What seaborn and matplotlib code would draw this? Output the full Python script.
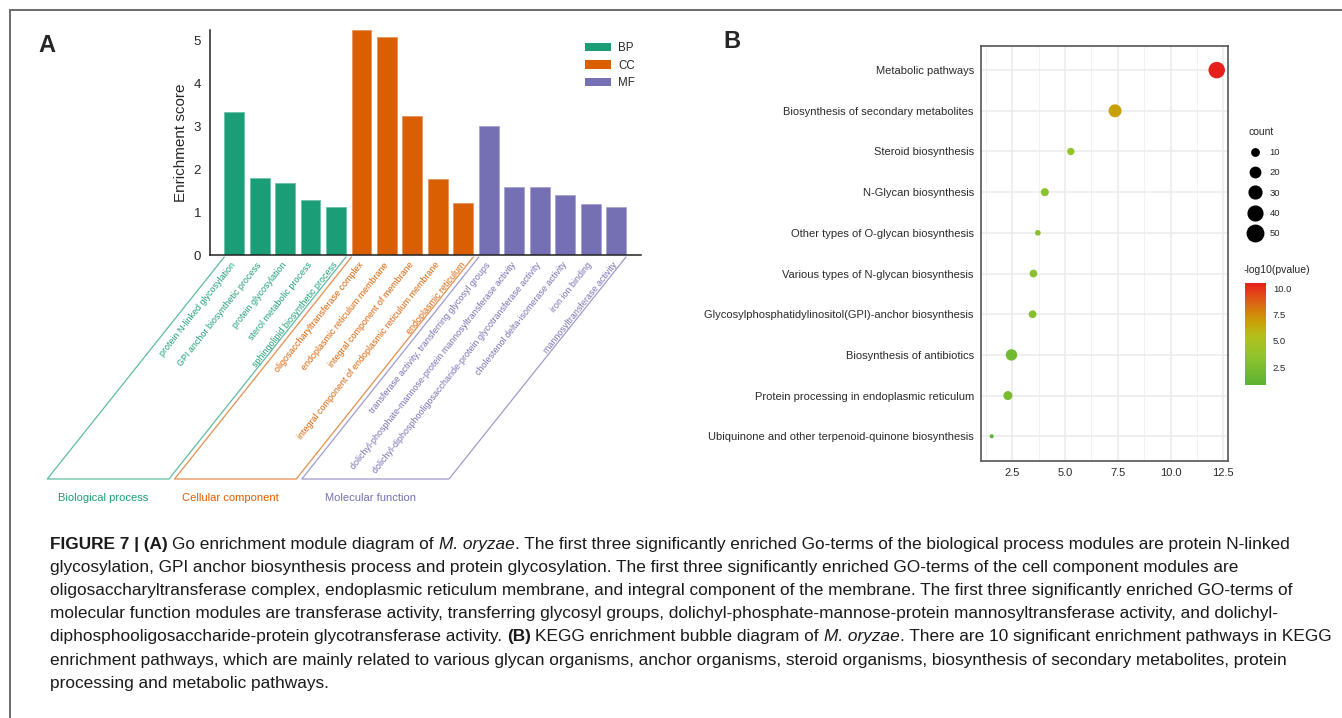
import numpy as np
import pandas as pd
import matplotlib
matplotlib.use("Agg")
import matplotlib.pyplot as plt
import seaborn as sns
from matplotlib.colors import LinearSegmentedColormap, Normalize, to_rgb
from matplotlib.lines import Line2D
from matplotlib.patches import Patch
import matplotlib.colorbar as mcolorbar

# ---------------- data ----------------
go_terms = [
    "protein N-linked glycosylation",
    "GPI anchor biosynthetic process",
    "protein glycosylation",
    "sterol metabolic process",
    "sphingolipid biosynthetic process",
    "oligosaccharyltransferase complex",
    "endoplasmic reticulum membrane",
    "integral component of membrane",
    "integral component of endoplasmic reticulum membrane",
    "endoplasmic reticulum",
    "transferase activity, transferring glycosyl groups",
    "dolichyl-phosphate-mannose-protein mannosyltransferase activity",
    "dolichyl-diphosphooligosaccharide-protein glycotransferase activity",
    "cholestenol delta-isomerase activity",
    "iron ion binding",
    "mannosyltransferase activity",
]
go_groups = ["BP"] * 5 + ["CC"] * 5 + ["MF"] * 6
go_scores = [3.34, 1.79, 1.69, 1.29, 1.12,
             5.25, 5.09, 3.25, 1.77, 1.22,
             3.01, 1.59, 1.59, 1.41, 1.19, 1.11]
group_order = ["BP", "CC", "MF"]
group_titles = ["Biological process", "Cellular component", "Molecular function"]
group_colors = ["#1b9e77", "#d95f02", "#7570b3"]

kegg_pathways = [
    "Metabolic pathways",
    "Biosynthesis of secondary metabolites",
    "Steroid biosynthesis",
    "N-Glycan biosynthesis",
    "Other types of O-glycan biosynthesis",
    "Various types of N-glycan biosynthesis",
    "Glycosylphosphatidylinositol(GPI)-anchor biosynthesis",
    "Biosynthesis of antibiotics",
    "Protein processing in endoplasmic reticulum",
    "Ubiquinone and other terpenoid-quinone biosynthesis",
]
kegg_x = [12.19, 7.37, 5.27, 4.04, 3.71, 3.50, 3.46, 2.46, 2.29, 1.52]
kegg_count = [50, 31, 10, 12, 6, 11, 11, 24, 15, 3]
kegg_logp = [10.5, 6.8, 3.8, 3.5, 3.3, 3.2, 3.0, 1.9, 2.4, 0.82]
count_breaks = [10, 20, 30, 40, 50]
logp_ticks = [2.5, 5.0, 7.5, 10.0]

# ---------------- figure ----------------
W, H, DPI = 1342, 718, 100
sns.set_style("white")
plt.rcParams["font.family"] = ["Liberation Sans", "DejaVu Sans"]
fig = plt.figure(figsize=(W / DPI, H / DPI), dpi=DPI)
fig.patch.set_facecolor("white")


def fx(px):
    return px / W


def fy(py):
    return 1 - py / H


# outer frame (top and left rules)
fig.add_artist(Line2D([fx(10), 1.0], [fy(10), fy(10)], transform=fig.transFigure,
                      color="#6b6b6b", lw=1.4))
fig.add_artist(Line2D([fx(10), fx(10)], [fy(10), 0.0], transform=fig.transFigure,
                      color="#6b6b6b", lw=1.4))

fig.text(fx(47), fy(45), "A", fontsize=17, fontweight="bold", ha="center", va="center")
fig.text(fx(732), fy(42), "B", fontsize=17, fontweight="bold", ha="center", va="center")

# ---------------- panel A: GO enrichment bars ----------------
axA = fig.add_axes([fx(209.5), fy(255), fx(641) - fx(209.5), fy(30) - fy(255)])
go_df = pd.DataFrame({"term": go_terms, "score": go_scores, "group": go_groups})
palette = dict(zip(group_order, group_colors))
sns.barplot(data=go_df, x="term", y="score", hue="group", hue_order=group_order,
            order=go_terms, palette=palette, dodge=False, width=0.78,
            saturation=1, ax=axA, legend=True)
for bar in axA.patches:
    r, g, b = bar.get_facecolor()[:3]
    bar.set_edgecolor((r + (1 - r) * 0.35, g + (1 - g) * 0.35, b + (1 - b) * 0.35))
    bar.set_linewidth(0.6)

axA.set_xlim(-0.97, 15.98)
axA.set_ylim(0, 5.25)
axA.set_yticks([0, 1, 2, 3, 4, 5])
axA.set_ylabel("Enrichment score", fontsize=11, labelpad=4)
axA.set_xlabel("")
for side in ["top", "right"]:
    axA.spines[side].set_visible(False)
for side in ["left", "bottom"]:
    axA.spines[side].set_color("#222222")
    axA.spines[side].set_linewidth(1.1)
axA.tick_params(axis="y", length=4, width=1, labelsize=9.5, pad=2, color="#222222")
axA.tick_params(axis="x", length=4, width=1, pad=2, color="#222222")
axA.set_xticks(range(len(go_terms)))
axA.set_xticklabels(go_terms, rotation=51.7, ha="right", va="center",
                    rotation_mode="anchor", fontsize=6.4)
for lbl, grp in zip(axA.get_xticklabels(), go_groups):
    lbl.set_color(palette[grp])

handles = [Patch(facecolor=c, edgecolor="none") for c in group_colors]
axA.legend(handles, group_order, loc="upper left", bbox_to_anchor=(fx(579), fy(36)),
           bbox_transform=fig.transFigure, frameon=False, fontsize=8.3,
           handlelength=2.3, handleheight=0.75, labelspacing=0.5,
           handletextpad=0.6, borderpad=0)

# slanted group brackets beneath the category labels
fig.canvas.draw()
slant_dx, slant_dy = 177, 222  # pixels down-left from the axis line
for gi, grp in enumerate(group_order):
    idx = [i for i, g in enumerate(go_groups) if g == grp]
    x0 = idx[0] - 0.39
    x1 = idx[-1] + 0.39
    (px0, py0) = axA.transData.transform((x0, 0))
    (px1, py1) = axA.transData.transform((x1, 0))
    xs = [px0, px0 - slant_dx, px1 - slant_dx, px1]
    ys = [py0 - 2, py0 - 2 - slant_dy, py1 - 2 - slant_dy, py1 - 2]
    col = to_rgb(group_colors[gi])
    soft = tuple(c + (1 - c) * 0.3 for c in col)
    fig.add_artist(Line2D([x / W for x in xs], [y / H for y in ys],
                          transform=fig.transFigure, color=soft, lw=0.9))
    cx = (xs[1] + xs[2]) / 2 - 5
    fig.text(cx / W, (ys[1] - 19) / H, group_titles[gi], color=group_colors[gi],
             fontsize=8, ha="center", va="center")

# ---------------- panel B: KEGG bubble chart ----------------
axB = fig.add_axes([fx(980.7), fy(460.7), fx(1227.7) - fx(980.7), fy(45.7) - fy(460.7)])
kegg_df = pd.DataFrame({"pathway": kegg_pathways, "x": kegg_x,
                        "count": kegg_count, "logp": kegg_logp})
cmap = LinearSegmentedColormap.from_list(
    "logp", [(0.0, "#5cb232"), (0.3, "#93c42c"), (0.48, "#b4c01c"),
             (0.62, "#c9a006"), (0.8, "#dc6813"), (1.0, "#e8201c")])
norm = Normalize(vmin=min(kegg_logp), vmax=max(kegg_logp))
size_max = 141
axB.set_axisbelow(True)
sns.scatterplot(data=kegg_df, x="x", y="pathway", hue="logp", palette=cmap,
                hue_norm=norm, size="count", sizes=(0, size_max), size_norm=(0, 50),
                legend=False, edgecolor="none", linewidth=0, alpha=1, ax=axB, zorder=3)
axB.set_xlim(1.0, 12.71)
axB.set_ylim(len(kegg_pathways) - 1 + 0.6, -0.6)
axB.set_xticks([2.5, 5.0, 7.5, 10.0, 12.5])
axB.set_xticks([1.25, 3.75, 6.25, 8.75, 11.25], minor=True)
axB.set_xlabel("")
axB.set_ylabel("")
axB.grid(True, which="major", color="#ebebeb", lw=1.1)
axB.grid(True, which="minor", axis="x", color="#f2f2f2", lw=0.7)
for sp in axB.spines.values():
    sp.set_color("#555555")
    sp.set_linewidth(1.2)
axB.tick_params(axis="both", which="major", length=3, width=0.8, color="#333333",
                labelsize=8, labelcolor="#2a2a2a", pad=2)
axB.tick_params(axis="x", which="minor", length=0)

# size legend
size_handles = [Line2D([], [], ls="none", marker="o", color="black",
                       markersize=np.sqrt(size_max * c / 50)) for c in count_breaks]
fig.legend(size_handles, [str(c) for c in count_breaks], title="count",
           loc="upper left", bbox_to_anchor=(fx(1244), fy(122)),
           bbox_transform=fig.transFigure, frameon=False, fontsize=6.8,
           title_fontsize=7.5, labelspacing=1.2, handlelength=1.3,
           handletextpad=0.9, borderpad=0, alignment="left")

# colour bar
fig.text(fx(1244), fy(270), "-log10(pvalue)", fontsize=7.5, ha="left", va="center")
cax = fig.add_axes([fx(1245), fy(385), 21 / W, 102 / H])
cb = mcolorbar.ColorbarBase(cax, cmap=cmap, norm=norm, ticks=logp_ticks)
cb.outline.set_visible(False)
cax.tick_params(direction="in", color="white", length=3, width=0.8,
                left=True, right=True, labelsize=6.8, pad=5)
cax.set_yticklabels([f"{t:.1f}" for t in logp_ticks])

# ---------------- caption ----------------
caption_lines = [
    [("FIGURE 7 | (A)", "bold", "normal"),
     (" Go enrichment module diagram of ", "normal", "normal"),
     ("M. oryzae", "normal", "italic"),
     (". The first three significantly enriched Go-terms of the biological process modules are protein N-linked", "normal", "normal")],
    [("glycosylation, GPI anchor biosynthesis process and protein glycosylation. The first three significantly enriched GO-terms of the cell component modules are", "normal", "normal")],
    [("oligosaccharyltransferase complex, endoplasmic reticulum membrane, and integral component of the membrane. The first three significantly enriched GO-terms of", "normal", "normal")],
    [("molecular function modules are transferase activity, transferring glycosyl groups, dolichyl-phosphate-mannose-protein mannosyltransferase activity, and dolichyl-", "normal", "normal")],
    [("diphosphooligosaccharide-protein glycotransferase activity. ", "normal", "normal"),
     ("(B)", "bold", "normal"),
     (" KEGG enrichment bubble diagram of ", "normal", "normal"),
     ("M. oryzae", "normal", "italic"),
     (". There are 10 significant enrichment pathways in KEGG", "normal", "normal")],
    [("enrichment pathways, which are mainly related to various glycan organisms, anchor organisms, steroid organisms, biosynthesis of secondary metabolites, protein", "normal", "normal")],
    [("processing and metabolic pathways.", "normal", "normal")],
]
cap_size = 12.4
renderer = fig.canvas.get_renderer()
probe_a = fig.text(0, 0, "x x", fontsize=cap_size)
probe_b = fig.text(0, 0, "xx", fontsize=cap_size)
space_w = (probe_a.get_window_extent(renderer).width
           - probe_b.get_window_extent(renderer).width)
probe_a.remove()
probe_b.remove()

for li, runs in enumerate(caption_lines):
    xpos = 50.0
    ypos = 544 + li * 23.2
    for text, weight, style in runs:
        lead = len(text) - len(text.lstrip(" "))
        trail = len(text) - len(text.rstrip(" "))
        core = text.strip(" ")
        xpos += lead * space_w
        t = fig.text(fx(xpos), fy(ypos), core, fontsize=cap_size, fontweight=weight,
                     fontstyle=style, ha="left", va="center", color="#1a1a1a")
        xpos += t.get_window_extent(renderer).width + trail * space_w

fig.savefig("out.png", dpi=DPI, facecolor="white")
